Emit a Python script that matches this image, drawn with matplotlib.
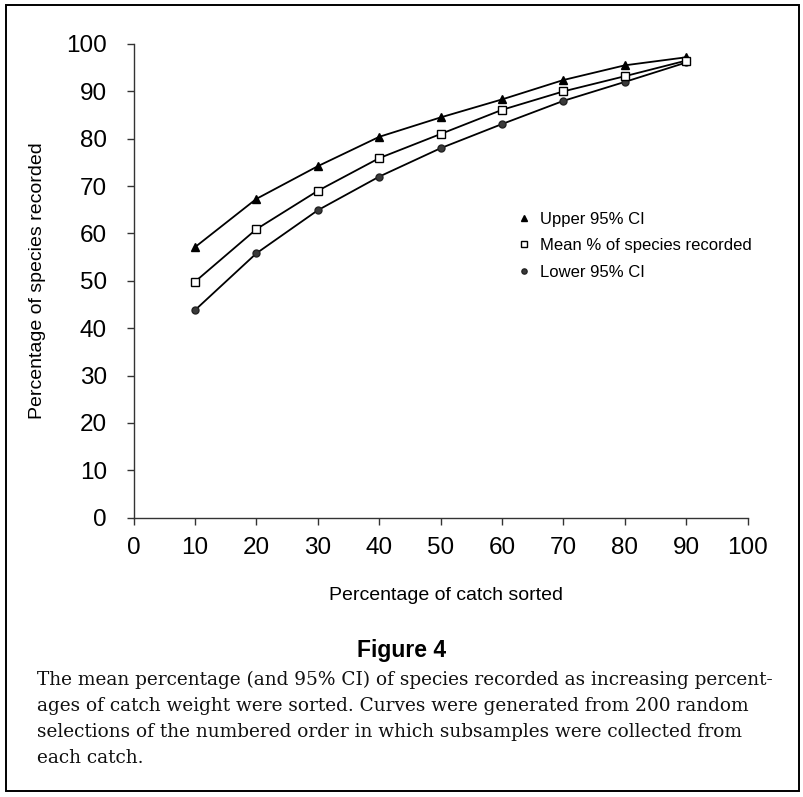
import matplotlib
matplotlib.use("Agg")
import matplotlib.pyplot as plt
from matplotlib.patches import Rectangle

plt.rcParams['font.family'] = ['Liberation Sans', 'DejaVu Sans']

# ---- data ----
catch_sorted = [10, 20, 30, 40, 50, 60, 70, 80, 90]
upper_ci = [57.1, 67.3, 74.2, 80.4, 84.5, 88.3, 92.4, 95.5, 97.2]
mean_pct = [49.8, 60.9, 69.0, 75.9, 81.0, 86.1, 90.0, 93.2, 96.5]
lower_ci = [43.8, 55.8, 64.9, 72.0, 78.0, 83.1, 88.0, 92.0, 96.1]
tick_values = [0, 10, 20, 30, 40, 50, 60, 70, 80, 90, 100]
legend_labels = ["Upper 95% CI", "Mean % of species recorded", "Lower 95% CI"]
x_label = "Percentage of catch sorted"
y_label = "Percentage of species recorded"
fig_title = "Figure 4"
caption_lines = [
    "The mean percentage (and 95% CI) of species recorded as increasing percent-",
    "ages of catch weight were sorted. Curves were generated from 200 random",
    "selections of the numbered order in which subsamples were collected from",
    "each catch.",
]

W, H = 804, 797
fig = plt.figure(figsize=(W / 100, H / 100), dpi=100)
fig.patch.set_facecolor('white')

def fx(px):
    return px / W

def fy(py):
    return 1 - py / H

ax = fig.add_axes([fx(133.5), fy(517.7), fx(747.7) - fx(133.5), fy(44) - fy(517.7)])

ax.plot(catch_sorted, upper_ci, color='black', lw=1.3, marker='^', ms=6,
        mfc='black', mec='black', label=legend_labels[0], zorder=3)
ax.plot(catch_sorted, mean_pct, color='black', lw=1.3, marker='s', ms=5.5,
        mfc='white', mec='black', mew=1.0, label=legend_labels[1], zorder=4)
ax.plot(catch_sorted, lower_ci, color='black', lw=1.3, marker='o', ms=5,
        mfc='#3a3a3a', mec='#222222', label=legend_labels[2], zorder=3)

ax.set_xlim(0, 100)
ax.set_ylim(0, 100)
ax.set_xticks(tick_values)
ax.set_yticks(tick_values)
ax.tick_params(axis='both', labelsize=17.5, direction='out', length=5,
               width=1.0, color='#333333')
ax.tick_params(axis='y', pad=14)
ax.tick_params(axis='x', pad=9)
for s in ['top', 'right']:
    ax.spines[s].set_visible(False)
for s in ['left', 'bottom']:
    ax.spines[s].set_linewidth(1.0)
    ax.spines[s].set_color('#333333')

ax.set_xlabel(x_label, fontsize=14, va='center')
ax.xaxis.set_label_coords((446 - 133.5) / 614.2, (517.7 - 595) / 473.7)
ax.set_ylabel(y_label, fontsize=14, va='center')
ax.yaxis.set_label_coords((38 - 133.5) / 614.2, 0.5)

leg = ax.legend(loc='upper left', frameon=False, fontsize=12, numpoints=1,
                handlelength=0.8, handletextpad=0.6, labelspacing=0.68,
                borderpad=0, borderaxespad=0, markerscale=0.75,
                bbox_to_anchor=(fx(517), fy(212)), bbox_transform=fig.transFigure)
for line in leg.get_lines():
    line.set_linestyle('none')

fig.text(fx(402), fy(651), fig_title, ha='center', va='center',
         fontsize=16.5, fontweight='bold')

# caption: fit font size so the longest line spans the text block width
renderer = fig.canvas.get_renderer()
texts = []
baselines = [685, 711, 737, 763]
for line, b in zip(caption_lines, baselines):
    t = fig.text(fx(37), fy(b), line, ha='left', va='baseline',
                 fontsize=12, family=['DejaVu Serif'], color='#111111')
    texts.append(t)
widths = [t.get_window_extent(renderer).width for t in texts[:3]]
fs = 12 * 735 / max(widths)
for t in texts:
    t.set_fontsize(fs)

# outer frame
fig.patches.append(Rectangle((fx(6), fy(791)), fx(799) - fx(6), fy(5) - fy(791),
                             transform=fig.transFigure, fill=False,
                             edgecolor='black', lw=1.4))

fig.savefig('out.png', dpi=100)
